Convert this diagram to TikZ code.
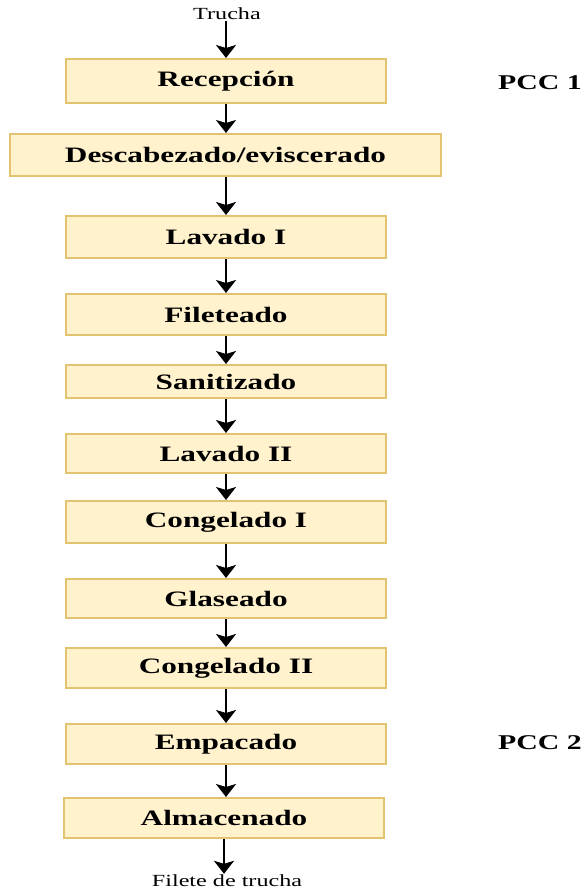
\documentclass[tikz,border=0pt]{standalone}
\usepackage{fontspec}
\usepackage{graphicx}
\setmainfont{Liberation Serif}
\usetikzlibrary{arrows.meta}

\definecolor{boxfill}{HTML}{FFF2CC}
\definecolor{boxline}{HTML}{E2C470}

% wide lettering used throughout the flow chart
\newcommand{\widetext}[1]{\scalebox{1.42}[1]{#1}}

\tikzset{
  stepbox/.style={draw=boxline, fill=boxfill, line width=2pt, inner sep=0pt,
                  font=\fontsize{22}{24}\selectfont\bfseries},
  flow/.style={line width=2pt, -{Stealth[width=20pt,length=13pt,inset=3pt]}},
  endlabel/.style={inner sep=1pt, font=\fontsize{17}{19}\selectfont},
  pcc/.style={inner sep=0pt, font=\fontsize{21}{24}\selectfont\bfseries}
}

% a process step given by its left, right, top and bottom edges
\newcommand{\procstep}[6]{%
  \node[stepbox, minimum width={#3-#2}, minimum height={#5-#4}]
    (#1) at ({(#2+#3)/2},{(#4+#5)/2}) {\widetext{#6}};}

\begin{document}
\begin{tikzpicture}[x=1pt, y=-1pt]
  \useasboundingbox (0,0) rectangle (587,892);

  \node[endlabel] (in) at (227,14) {\widetext{Trucha}};

  \procstep{rec}{66}{386}{59}{103}{Recepción}
  \procstep{des}{10}{441}{134}{176}{Descabezado/eviscerado}
  \procstep{lav1}{66}{386}{216}{258}{Lavado I}
  \procstep{fil}{66}{386}{294}{335}{Fileteado}
  \procstep{san}{66}{386}{365}{398}{Sanitizado}
  \procstep{lav2}{66}{386}{434}{473}{Lavado II}
  \procstep{con1}{66}{386}{501}{543}{Congelado I}
  \procstep{gla}{66}{386}{579}{618}{Glaseado}
  \procstep{con2}{66}{386}{648}{688}{Congelado II}
  \procstep{emp}{66}{386}{724}{764}{Empacado}
  \procstep{alm}{64}{384}{798}{838}{Almacenado}

  \node[endlabel] (out) at (227,881) {\widetext{Filete de trucha}};

  \node[pcc] (pcc1) at (540,83) {\widetext{PCC 1}};
  \node[pcc] (pcc2) at (540,743) {\widetext{PCC 2}};

  \draw[flow] (rec.north |- in.south) -- (rec.north);
  \draw[flow] (rec.south) -- (rec.south |- des.north);
  \draw[flow] (lav1.north |- des.south) -- (lav1.north);
  \draw[flow] (lav1.south) -- (fil.north);
  \draw[flow] (fil.south) -- (san.north);
  \draw[flow] (san.south) -- (lav2.north);
  \draw[flow] (lav2.south) -- (con1.north);
  \draw[flow] (con1.south) -- (gla.north);
  \draw[flow] (gla.south) -- (con2.north);
  \draw[flow] (con2.south) -- (emp.north);
  \draw[flow] (emp.south) -- (emp.south |- alm.north);
  \draw[flow] (alm.south) -- (alm.south |- out.north);
\end{tikzpicture}
\end{document}
